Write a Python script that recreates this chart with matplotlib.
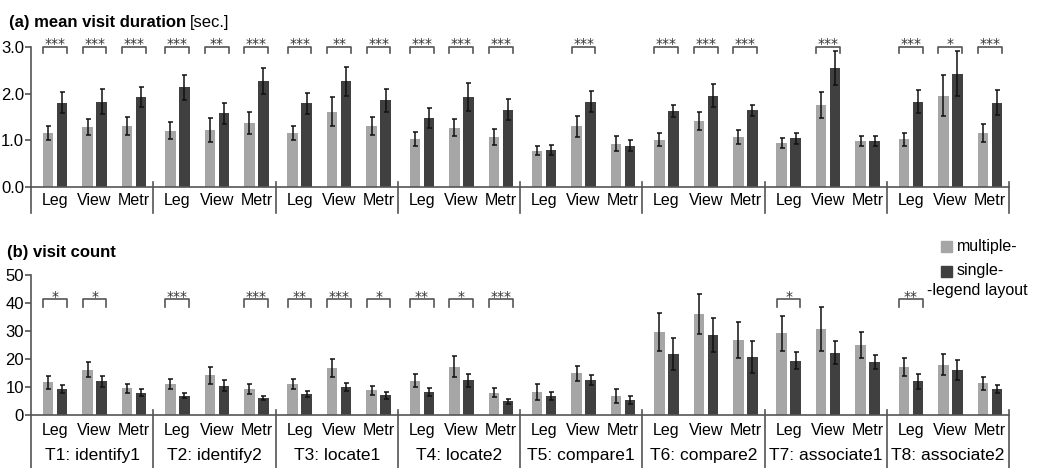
import matplotlib
matplotlib.use('Agg')
import matplotlib.pyplot as plt
from matplotlib.patches import Rectangle
import numpy as np

plt.rcParams['font.family'] = ['Liberation Sans', 'DejaVu Sans']

W, H = 1037, 468
LIGHT = '#a6a6a6'
DARK = '#404040'
LINE = '#555555'

tasks = ['T1: identify1', 'T2: identify2', 'T3: locate1', 'T4: locate2',
         'T5: compare1', 'T6: compare2', 'T7: associate1', 'T8: associate2']
cats = ['Leg', 'View', 'Metr']

# (a) mean visit duration [sec.]  -- task-major order: T1 Leg/View/Metr, T2 ...
dur_multi = [1.16, 1.28, 1.31, 1.21, 1.22, 1.37, 1.16, 1.61, 1.30, 1.03, 1.27, 1.07,
             0.78, 1.30, 0.93, 1.01, 1.41, 1.07, 0.94, 1.76, 0.98, 1.02, 1.96, 1.16]
dur_multi_err = [0.15, 0.17, 0.19, 0.19, 0.26, 0.23, 0.15, 0.31, 0.19, 0.15, 0.18, 0.17,
                 0.10, 0.23, 0.16, 0.14, 0.19, 0.15, 0.11, 0.28, 0.11, 0.14, 0.43, 0.19]
dur_single = [1.81, 1.83, 1.93, 2.14, 1.58, 2.28, 1.79, 2.27, 1.86, 1.48, 1.92, 1.66,
              0.79, 1.83, 0.885, 1.63, 1.96, 1.64, 1.04, 2.55, 0.99, 1.83, 2.43, 1.81]
dur_single_err = [0.22, 0.26, 0.22, 0.27, 0.22, 0.28, 0.23, 0.31, 0.25, 0.22, 0.30, 0.23,
                  0.11, 0.22, 0.12, 0.13, 0.25, 0.12, 0.12, 0.37, 0.11, 0.25, 0.49, 0.27]
dur_sig = ['***', '***', '***', '***', '**', '***', '***', '**', '***', '***', '***', '***',
           '', '***', '', '***', '***', '***', '', '***', '', '***', '*', '***']

# (b) visit count
cnt_multi = [11.7, 16.2, 9.5, 11.1, 14.2, 9.3, 11.1, 16.7, 8.8, 12.3, 17.3, 8.0,
             8.2, 14.9, 6.8, 29.6, 36.0, 26.8, 29.2, 30.7, 25.0, 17.0, 18.0, 11.4]
cnt_multi_err = [2.4, 2.7, 1.6, 1.9, 3.1, 1.7, 1.9, 3.2, 1.5, 2.2, 3.8, 1.5,
                 2.8, 2.7, 2.5, 6.9, 7.1, 6.3, 6.3, 7.8, 4.8, 3.2, 3.7, 2.3]
cnt_single = [9.2, 12.0, 8.0, 6.9, 10.5, 6.1, 7.5, 9.9, 7.0, 8.1, 12.4, 4.9,
              6.8, 12.5, 5.4, 21.8, 28.5, 20.7, 19.4, 22.3, 18.9, 12.0, 16.1, 9.3]
cnt_single_err = [1.4, 1.9, 1.2, 0.8, 1.9, 0.8, 1.2, 1.4, 1.2, 1.4, 2.4, 0.8,
                  1.3, 1.8, 1.3, 5.7, 6.0, 5.8, 3.0, 4.2, 2.5, 2.6, 3.7, 1.3]
cnt_sig = ['*', '*', '', '***', '', '***', '**', '***', '*', '**', '*', '***',
           '', '', '', '', '', '', '*', '', '', '**', '', '']

# x layout in category-spacing units
GROUP_W = 3.095
FIRST = 0.61
OFF = 0.177
BAR_W = 0.266
xs = np.array([g * GROUP_W + FIRST + c for g in range(len(tasks)) for c in range(len(cats))])
XMAX = len(tasks) * GROUP_W

fig = plt.figure(figsize=(W / 100, H / 100), dpi=100)


def rect_px(x0, y_top, x1, y_bot):
    return [x0 / W, 1 - y_bot / H, (x1 - x0) / W, (y_bot - y_top) / H]


def draw_panel(ax, multi, multi_err, single, single_err, sig, ymax_tick, yticks,
               tick_fmt, br_top, br_leg, star_y, sep_top, sep_bot):
    ax.bar(xs - OFF, multi, BAR_W, color=LIGHT, zorder=2)
    ax.bar(xs + OFF, single, BAR_W, color=DARK, zorder=2)
    ax.errorbar(xs - OFF, multi, yerr=multi_err, fmt='none', ecolor='#111111',
                elinewidth=1.1, capsize=1.8, capthick=1.1, zorder=3)
    ax.errorbar(xs + OFF, single, yerr=single_err, fmt='none', ecolor='#111111',
                elinewidth=1.1, capsize=1.8, capthick=1.1, zorder=3)

    for x, s in zip(xs, sig):
        if not s:
            continue
        x0, x1 = x - 0.30, x + 0.30
        ax.plot([x0, x0, x1, x1], [br_leg, br_top, br_top, br_leg],
                color=LINE, lw=1.2, clip_on=False)
        ax.text(x, star_y, s, ha='center', va='baseline', fontsize=10,
                family='DejaVu Sans', color='#333333')

    ax.set_xlim(0, XMAX)
    for side in ['top', 'right']:
        ax.spines[side].set_visible(False)
    ax.spines['left'].set_bounds(0, ymax_tick)
    for side in ['left', 'bottom']:
        ax.spines[side].set_color(LINE)
        ax.spines[side].set_linewidth(1.2)
    ax.set_xticks([])
    ax.set_yticks(yticks)
    ax.set_yticklabels([tick_fmt.format(v) for v in yticks])
    ax.tick_params(axis='y', direction='out', length=4, width=1.2, color=LINE,
                   labelsize=12, pad=1)

    # left spine continues down, plus group separators
    ax.plot([0, 0], [0, sep_bot], color=LINE, lw=1.2, clip_on=False)
    for g in range(1, len(tasks) + 1):
        xb = g * GROUP_W
        ax.plot([xb, xb], [sep_top, sep_bot], color=LINE, lw=1.2, clip_on=False)


# ---- (a) mean visit duration ----
ax1 = fig.add_axes(rect_px(31, 26, 1009, 187))
ax1.set_ylim(0, 3.45)
draw_panel(ax1, dur_multi, dur_multi_err, dur_single, dur_single_err, dur_sig,
           3.0, [0.0, 1.0, 2.0, 3.0], '{:.1f}',
           br_top=3.0, br_leg=2.87, star_y=2.98, sep_top=0.11, sep_bot=-0.56)
for x, i in zip(xs, range(len(xs))):
    ax1.text(x, -0.29, cats[i % 3], ha='center', va='center', fontsize=11.5)

# ---- (b) visit count ----
ax2 = fig.add_axes(rect_px(31, 269.4, 1009, 415))
ax2.set_ylim(0, 52)
draw_panel(ax2, cnt_multi, cnt_multi_err, cnt_single, cnt_single_err, cnt_sig,
           50, [0, 10, 20, 30, 40, 50], '{:d}',
           br_top=41.4, br_leg=38.6, star_y=40.6, sep_top=1.8, sep_bot=-19.0)
for x, i in zip(xs, range(len(xs))):
    ax2.text(x, -5.5, cats[i % 3], ha='center', va='center', fontsize=11.5)
for g, name in enumerate(tasks):
    ax2.text((g + 0.5) * GROUP_W, -14.4, name, ha='center', va='center', fontsize=12.5)

# panel titles
renderer = fig.canvas.get_renderer()
t1 = fig.text(9 / W, 1 - 22 / H, '(a) mean visit duration', fontsize=12,
              fontweight='bold', va='center', ha='left')
bb = t1.get_window_extent(renderer)
fig.text((bb.x1 + 4) / W, 1 - 22 / H, '[sec.]', fontsize=12, va='center', ha='left')
fig.text(7 / W, 1 - 253 / H, '(b) visit count', fontsize=12,
         fontweight='bold', va='center', ha='left')

# legend
for ytop, col in [(241, LIGHT), (266, DARK)]:
    fig.patches.append(Rectangle((941 / W, 1 - (ytop + 11) / H), 11 / W, 11 / H,
                                 color=col, transform=fig.transFigure))
fig.text(957 / W, 1 - 246 / H, 'multiple-', fontsize=11.5, va='center', ha='left')
fig.text(957 / W, 1 - 271 / H, 'single-', fontsize=11.5, va='center', ha='left')
fig.text(927 / W, 1 - 291 / H, '-legend layout', fontsize=11.5, va='center', ha='left')

fig.savefig('out.png', dpi=100)
